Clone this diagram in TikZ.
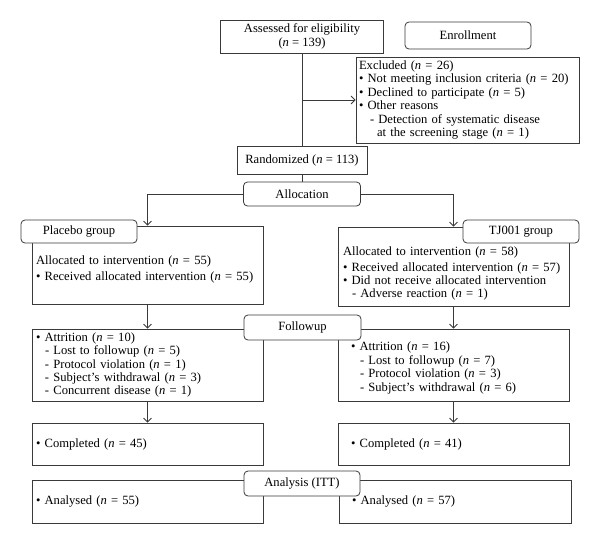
\documentclass[tikz,border=0pt]{standalone}
\usepackage{fontspec}
\setmainfont{Liberation Serif}
\usetikzlibrary{arrows.meta}
\usepackage{xcolor}
\definecolor{FlowGray}{HTML}{3A3A3A}
\newcommand{\cnt}[1]{(\textit{n} = #1)}
\newcommand{\bul}{\textbullet\ }
\newcommand{\dsh}{\hspace*{9pt}-\ }

\begin{document}
\begin{tikzpicture}[x=1pt, y=-1pt, >={Straight Barb[length=4pt,width=8pt]},
    font=\fontsize{12.6}{13.4}\selectfont,
    box/.style={draw=FlowGray, line width=0.8pt, fill=white, align=left, inner ysep=2pt},
    stage/.style={draw=FlowGray, line width=0.8pt, fill=white, rounded corners=4pt, align=center, inner sep=2pt},
    link/.style={draw=FlowGray, line width=0.8pt}]
    \useasboundingbox (0,0) rectangle (600,544);

    % Enrollment
    \node[box, align=center, minimum width=163pt, minimum height=33pt] (assessed) at (302,36.5) {Assessed for eligibility\\\cnt{139}};
    \node[box, text width=217pt, inner xsep=3pt, minimum height=86pt] (excluded) at (467.5,100) {Excluded \cnt{26}\\\bul Not meeting inclusion criteria \cnt{20}\\\bul Declined to participate \cnt{5}\\\bul Other reasons\\\hspace*{11pt}-\ Detection of systematic disease\\\hspace*{18pt}at the screening stage \cnt{1}};
    \node[box, align=center, minimum width=130pt, minimum height=28pt] (randomized) at (302,160) {Randomized \cnt{113}};

    % Allocation
    \node[box, text width=223pt, inner xsep=4pt, minimum height=78pt] (leftalloc) at (147.5,265) {\rule{0pt}{17.5pt}Allocated to intervention \cnt{55}\\[2.6pt]\bul Received allocated intervention \cnt{55}};
    \node[box, text width=221pt, inner xsep=5pt, minimum height=79pt] (rightalloc) at (453.5,266.5) {\rule{0pt}{22.5pt}Allocated to intervention \cnt{58}\\[2.6pt]\bul Received allocated intervention \cnt{57}\\\bul Did not receive allocated intervention\\\dsh Adverse reaction \cnt{1}};

    % Followup
    \node[box, text width=223pt, inner xsep=4pt, minimum height=72pt] (leftatt) at (147.5,365) {\bul Attrition \cnt{10}\\\dsh Lost to followup \cnt{5}\\\dsh Protocol violation \cnt{1}\\\dsh Subject's withdrawal \cnt{3}\\\dsh Concurrent disease \cnt{1}};
    \node[box, text width=205pt, inner xsep=13pt, minimum height=72pt] (rightatt) at (453.5,365) {\rule{0pt}{14.5pt}\bul Attrition \cnt{16}\\\dsh Lost to followup \cnt{7}\\\dsh Protocol violation \cnt{3}\\\dsh Subject's withdrawal \cnt{6}};
    \node[box, text width=223pt, inner xsep=4pt, minimum height=42pt] (leftcomp) at (147.5,444) {\bul Completed \cnt{45}};
    \node[box, text width=205pt, inner xsep=13pt, minimum height=42pt] (rightcomp) at (453.5,444) {\bul Completed \cnt{41}};

    % Analysis
    \node[box, text width=223pt, inner xsep=4pt, minimum height=43pt] (leftana) at (147.5,501.5) {\bul Analysed \cnt{55}};
    \node[box, text width=206pt, inner xsep=13pt, minimum height=43pt] (rightana) at (455,501.5) {\bul Analysed \cnt{57}};

    % Stage labels on top
    \node[stage, minimum width=126pt, minimum height=27pt] (enroll) at (468,35.5) {Enrollment};
    \node[stage, minimum width=117pt, minimum height=24pt] (allocation) at (302,194) {Allocation};
    \node[stage, minimum width=116pt, minimum height=23pt] (placebo) at (79,231.5) {Placebo group};
    \node[stage, minimum width=116pt, minimum height=23pt] (tjgroup) at (521,231.5) {TJ001 group};
    \node[stage, minimum width=117pt, minimum height=25pt] (followup) at (302.5,327.5) {Followup};
    \node[stage, minimum width=116pt, minimum height=25pt] (analysis) at (302,483.5) {Analysis (ITT)};

    % Connectors
    \draw[link] (assessed) -- (randomized);
    \draw[link, ->] (assessed.south |- excluded.west) -- (excluded.west);
    \draw[link] (randomized) -- (allocation);
    \draw[link, ->] (allocation.west) -| (leftalloc.north);
    \draw[link, ->] (allocation.east) -| (rightalloc.north);
    \draw[link, ->] (leftalloc) -- (leftatt);
    \draw[link, ->] (rightalloc) -- (rightatt);
    \draw[link, ->] (leftatt) -- (leftcomp);
    \draw[link, ->] (rightatt) -- (rightcomp);
\end{tikzpicture}
\end{document}
